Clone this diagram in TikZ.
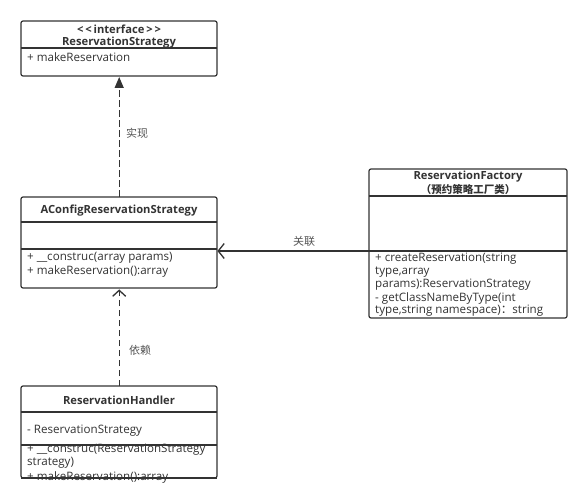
\documentclass[tikz,border=0pt]{standalone}
\usepackage{fontspec}
\setmainfont{Open Sans}
\newfontfamily\cjk{Noto Sans CJK SC}
\usetikzlibrary{arrows.meta}
\definecolor{ln}{HTML}{333333}
\definecolor{tx}{HTML}{333333}
\definecolor{lt}{HTML}{555555}
\begin{document}
\begin{tikzpicture}[x=1pt,y=-1pt,
  umlbox/.style={draw=ln,line width=1.2pt,rounded corners=2pt,fill=white},
  divider/.style={draw=ln,line width=1.2pt},
  ttl/.style={font=\fontsize{11.2}{12}\selectfont\bfseries,text=tx,inner sep=0pt,anchor=center},
  mem/.style={font=\fontsize{11.6}{12}\selectfont,text=tx,inner sep=0pt,anchor=west},
  lbl/.style={font=\cjk\fontsize{11}{12}\selectfont,text=lt,inner sep=0pt},
  conn/.style={draw=ln,line width=1.3pt},
  dsh/.style={dash pattern=on 6.5pt off 3.5pt},
  frame/.style={draw=none,anchor=north west,inner sep=0pt}
]
\useasboundingbox (0,0) rectangle (587,500);
\fill[white] (0,0) rectangle (587,500);

% Box 1: interface
\draw[umlbox] (21,21) rectangle (217,76);
\node[frame,minimum width=196pt,minimum height=55pt] (strategy) at (21,21) {};
\draw[divider] (21,48) -- (217,48);
\node[ttl] (t1a) at (119,29) {<\,<\,interface\,>\,>};
\node[ttl] (t1b) at (119,42.5) {ReservationStrategy};
\node[mem] (m1a) at (27,57) {+ makeReservation};

% Box 2: AConfigReservationStrategy
\draw[umlbox] (21,197) rectangle (217,288);
\node[frame,minimum width=196pt,minimum height=91pt] (aconfig) at (21,197) {};
\draw[divider] (21,222) -- (217,222);
\draw[divider] (21,249) -- (217,249);
\node[ttl] (t2) at (119,211) {AConfigReservationStrategy};
\node[mem] (m2a) at (27,258) {+ \_\_construc(array params)};
\node[mem] (m2b) at (27,271) {+ makeReservation():array};

% Box 3: ReservationFactory
\draw[umlbox] (369,169) rectangle (567,318);
\node[frame,minimum width=198pt,minimum height=149pt] (factory) at (369,169) {};
\draw[divider] (369,196) -- (567,196);
\draw[divider] (369,251) -- (567,251);
\node[ttl] (t3a) at (468,177) {ReservationFactory};
\node[ttl,font=\cjk\fontsize{10.5}{12}\selectfont\bfseries] (t3b) at (468,190) {（预约策略工厂类）};
\node[mem] (m3a) at (375,259) {+ createReservation(string};
\node[mem] (m3b) at (375,272) {type,array};
\node[mem] (m3c) at (375,285) {params):ReservationStrategy};
\node[mem] (m3d) at (375,298) {- getClassNameByType(int};
\node[mem] (m3e) at (375,311) {type,string namespace){\cjk ：}string};

% Box 4: ReservationHandler
\draw[umlbox] (21,386) rectangle (217,478);
\node[frame,minimum width=196pt,minimum height=92pt] (handler) at (21,386) {};
\draw[divider] (21,412) -- (217,412);
\draw[divider] (21,445) -- (217,445);
\node[ttl] (t4) at (119,400) {ReservationHandler};
\node[mem] (m4a) at (27,431) {- ReservationStrategy};
\node[mem] (m4b) at (27,450) {+ \_\_construc(ReservationStrategy};
\node[mem] (m4c) at (27,463) {strategy)};
\node[mem] (m4d) at (27,477) {+ makeReservation():array};
\draw[divider] (21,478) -- (217,478);

% Connectors
\draw[conn,dsh,-{Triangle[length=11pt,width=9pt]}] (aconfig.north) -- ([yshift=-0.6pt]strategy.south);
\node[lbl] (l1) at (137,133) {实现};

\draw[conn,-{Straight Barb[length=6pt,width=15pt,line width=1.3pt]}] (factory.west |- 0,251) -- (aconfig.east |- 0,251);
\node[lbl] (l2) at (304,241) {关联};

\draw[conn,dsh,-{Straight Barb[length=6pt,width=13pt,line width=1.3pt]}] (handler.north) -- ([yshift=-1pt]aconfig.south);
\node[lbl] (l3) at (140,350) {依赖};
\end{tikzpicture}
\end{document}
